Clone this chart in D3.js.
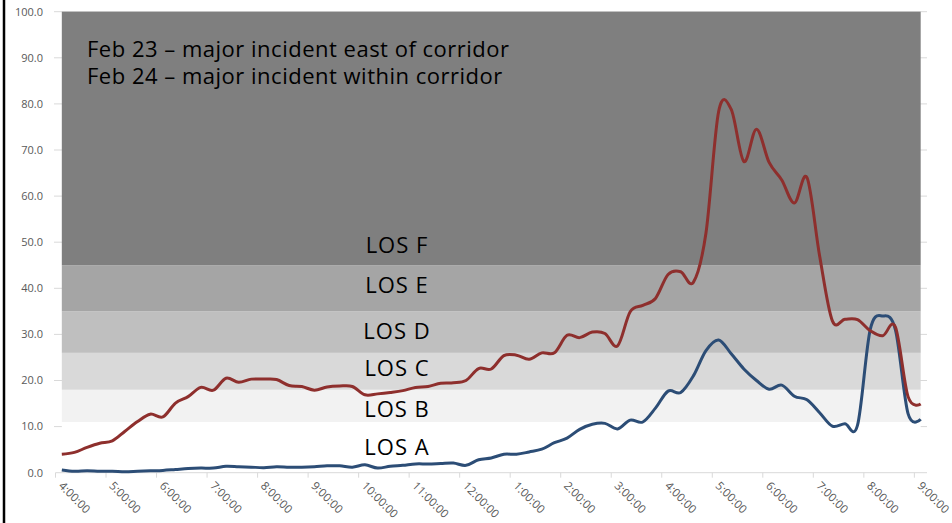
<!DOCTYPE html>
<html>
<head>
<meta charset="utf-8">
<script src="https://cdn.jsdelivr.net/npm/d3@7"></script>
<style>
  html, body { margin: 0; padding: 0; background: #ffffff; }
  svg { display: block; }
</style>
</head>
<body>
<script>
// hour labels on the x axis (every 4th 15-minute category)
const hourLabels = ["4:00:00", "5:00:00", "6:00:00", "7:00:00", "8:00:00", "9:00:00", "10:00:00", "11:00:00",
  "12:00:00", "1:00:00", "2:00:00", "3:00:00", "4:00:00", "5:00:00", "6:00:00", "7:00:00", "8:00:00", "9:00:00"];

// Feb 23 - major incident east of corridor (blue)
const feb23 = [0.6, 0.3, 0.4, 0.3, 0.3, 0.2, 0.3, 0.4, 0.5, 0.7, 0.9, 1.0, 1.0, 1.4, 1.3, 1.2, 1.1, 1.3, 1.2, 1.2,
  1.3, 1.5, 1.5, 1.2, 1.7, 1.0, 1.4, 1.6, 1.9, 1.9, 2.0, 2.1, 1.6, 2.8, 3.2, 4.0, 4.0, 4.5, 5.1, 6.5,
  7.5, 9.4, 10.5, 10.7, 9.5, 11.4, 11.0, 14.0, 17.7, 17.4, 21.0, 26.5, 28.8, 25.8, 22.5, 20.0, 18.1, 19.0, 16.6, 15.8,
  13.0, 10.1, 10.6, 10.3, 31.0, 34.0, 31.0, 12.8, 11.6];

// Feb 24 - major incident within corridor (red)
const feb24 = [4.0, 4.4, 5.5, 6.4, 6.9, 9.0, 11.1, 12.7, 12.1, 15.1, 16.5, 18.5, 17.9, 20.5, 19.6, 20.3, 20.3, 20.2, 18.9, 18.7,
  17.9, 18.6, 18.8, 18.7, 16.9, 17.1, 17.4, 17.8, 18.5, 18.7, 19.4, 19.5, 20.0, 22.6, 22.5, 25.4, 25.5, 24.6, 26.0, 26.0,
  29.8, 29.3, 30.5, 30.2, 27.5, 34.9, 36.3, 37.8, 43.0, 43.6, 41.3, 52.0, 78.3, 78.8, 67.5, 74.5, 67.3, 63.5, 58.5, 64.0,
  47.0, 33.0, 33.3, 33.2, 30.8, 29.7, 31.6, 16.5, 14.9];

// level of service bands (density thresholds)
const losNames = ["LOS A", "LOS B", "LOS C", "LOS D", "LOS E", "LOS F"];
const losLimits = [0, 11, 18, 26, 35, 45, 100];
const losLabelAt = [3.8, 12.1, 21.0, 28.9, 39.0, 47.7];

const yTicks = [0, 10, 20, 30, 40, 50, 60, 70, 80, 90, 100];
const noteLines = ["Feb 23 \u2013 major incident east of corridor", "Feb 24 \u2013 major incident within corridor"];

const W = 952, H = 523;
const bandFill = ["#ffffff", "#f2f2f2", "#d9d9d9", "#bfbfbf", "#a5a5a5", "#7f7f7f"];
const font = "'Open Sans', sans-serif";

// 15 minute categories
const cats = [];
hourLabels.forEach((h, i) => {
  if (i < hourLabels.length - 1) {
    ["00", "15", "30", "45"].forEach(m => cats.push(i + "|" + h.replace(":00:00", ":" + m + ":00")));
  } else {
    cats.push(i + "|" + h);
  }
});

const svg = d3.select("body").append("svg")
  .attr("width", W)
  .attr("height", H);

const x = d3.scaleBand().domain(cats).range([55.5, 927]).padding(0);
const y = d3.scaleLinear().domain([0, 100]).range([472.7, 11.7]);
const cx = i => x(cats[i]) + x.bandwidth() / 2;

// left frame line
svg.append("line")
  .attr("x1", 4).attr("x2", 4).attr("y1", 0).attr("y2", H)
  .attr("stroke", "#000").attr("stroke-width", 2.5);

// gridlines
svg.append("g").selectAll("line").data(yTicks.slice(1)).join("line")
  .attr("x1", 54).attr("x2", 927)
  .attr("y1", d => y(d)).attr("y2", d => y(d))
  .attr("stroke", "#d9d9d9").attr("stroke-width", 1);

// y labels
svg.append("g").selectAll("text").data(yTicks).join("text")
  .attr("x", 43).attr("y", d => y(d))
  .attr("dy", "0.35em")
  .attr("text-anchor", "end")
  .style("font-family", font).style("font-size", "11px")
  .style("fill", "#595959")
  .text(d => d3.format(".1f")(d));

// LOS bands
const x0 = cx(0), x1 = cx(cats.length - 1);
svg.append("g").selectAll("rect").data(losNames).join("rect")
  .attr("x", x0).attr("width", x1 - x0)
  .attr("y", (d, i) => y(losLimits[i + 1]))
  .attr("height", (d, i) => y(losLimits[i]) - y(losLimits[i + 1]))
  .attr("fill", (d, i) => bandFill[i]);

// x axis line and ticks
svg.append("line")
  .attr("x1", 55.5).attr("x2", 927).attr("y1", y(0)).attr("y2", y(0))
  .attr("stroke", "#d9d9d9").attr("stroke-width", 1);

const hourIdx = d3.range(0, cats.length, 4);
svg.append("g").selectAll("line").data(hourIdx).join("line")
  .attr("x1", i => x(cats[i])).attr("x2", i => x(cats[i]))
  .attr("y1", y(0)).attr("y2", y(0) + 5)
  .attr("stroke", "#d9d9d9").attr("stroke-width", 1);

svg.append("g").selectAll("text").data(hourIdx).join("text")
  .attr("transform", i => `translate(${cx(i) - 1},${y(0) + 11}) rotate(45)`)
  .attr("dy", "0.35em")
  .style("font-family", font).style("font-size", "11.5px")
  .style("fill", "#595959")
  .text((i, k) => hourLabels[k]);

// LOS labels
svg.append("g").selectAll("text").data(losNames).join("text")
  .attr("x", 397).attr("y", (d, i) => y(losLabelAt[i]))
  .attr("text-anchor", "middle")
  .style("font-family", font).style("font-size", "22px")
  .style("letter-spacing", "1px")
  .style("fill", "#000")
  .text(d => d);

// note
svg.append("g").selectAll("text").data(noteLines).join("text")
  .attr("x", 87).attr("y", (d, i) => 56.7 + i * 27.6)
  .style("font-family", font).style("font-size", "22px")
  .style("letter-spacing", "0.5px")
  .style("fill", "#000")
  .text(d => d);

// lines
const line = d3.line()
  .x((d, i) => cx(i))
  .y(d => y(d))
  .curve(d3.curveCardinal);

svg.append("path").datum(feb23)
  .attr("d", line)
  .attr("fill", "none").attr("stroke", "#2c4d76").attr("stroke-width", 3)
  .attr("stroke-linejoin", "round");

svg.append("path").datum(feb24)
  .attr("d", line)
  .attr("fill", "none").attr("stroke", "#8e2f2d").attr("stroke-width", 3)
  .attr("stroke-linejoin", "round");
</script>
</body>
</html>
